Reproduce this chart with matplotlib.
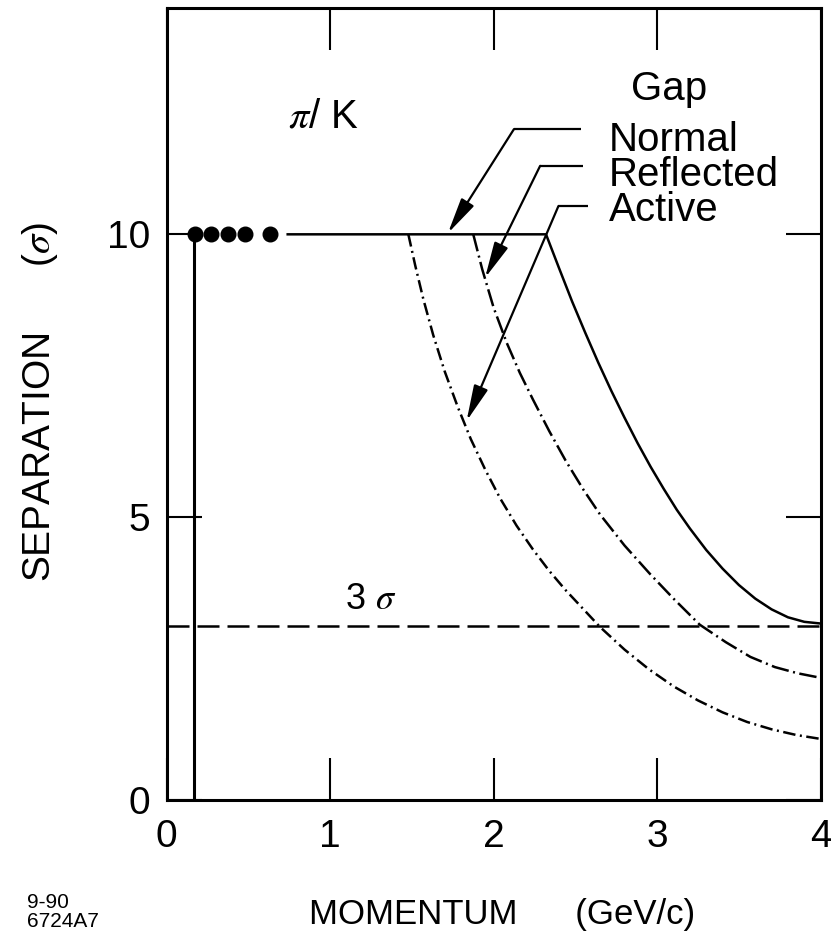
import matplotlib
matplotlib.use("Agg")
import matplotlib.pyplot as plt

plt.rcParams['font.family'] = ['Liberation Sans', 'DejaVu Sans']
plt.rcParams['mathtext.fontset'] = 'stix'

# ---- data ----
x_ticks = [0, 1, 2, 3, 4]
y_ticks = [0, 5, 10]

dots_x = [0.173, 0.271, 0.373, 0.48, 0.633]
dots_y = [10, 10, 10, 10, 10]

cut_x = [0.167, 0.167]
cut_y = [0, 10]

normal_x = [0.74, 2.32, 2.40, 2.48, 2.56, 2.64, 2.72, 2.80, 2.88, 2.96, 3.04,
            3.12, 3.20, 3.30, 3.40, 3.50, 3.60, 3.70, 3.80, 3.90, 4.0]
normal_y = [10.0, 10.0, 9.40, 8.81, 8.26, 7.73, 7.23, 6.76, 6.31, 5.89, 5.50,
            5.13, 4.80, 4.42, 4.09, 3.80, 3.56, 3.37, 3.23, 3.15, 3.12]

reflected_x = [1.875, 1.93, 2.00, 2.08, 2.16, 2.24, 2.34, 2.44, 2.55, 2.65,
               2.80, 2.955, 3.10, 3.26, 3.42, 3.57, 3.72, 3.86, 4.0]
reflected_y = [10.0, 9.38, 8.70, 8.08, 7.55, 7.08, 6.52, 6.00, 5.48, 5.05,
               4.50, 4.00, 3.56, 3.10, 2.79, 2.53, 2.35, 2.24, 2.16]

active_x = [1.478, 1.52, 1.57, 1.63, 1.70, 1.78, 1.86, 1.95, 2.04, 2.14, 2.24,
            2.34, 2.44, 2.55, 2.65, 2.80, 2.95, 3.10, 3.25, 3.40, 3.55, 3.70,
            3.85, 4.0]
active_y = [10.0, 9.45, 8.85, 8.22, 7.58, 6.95, 6.38, 5.83, 5.33, 4.85, 4.43,
            4.05, 3.71, 3.37, 3.06, 2.66, 2.31, 2.01, 1.76, 1.55, 1.38, 1.25,
            1.15, 1.08]

three_sigma = 3.07

gap_labels = ['Normal', 'Reflected', 'Active']

# leader lines: (label end, corner, arrow tip)
leader_normal = [(2.534, 11.86), (2.124, 11.86), (1.72, 10.02)]
leader_reflected = [(2.547, 11.21), (2.284, 11.21), (1.947, 9.23)]
leader_active = [(2.574, 10.5), (2.396, 10.5), (1.834, 6.70)]

# ---- figure ----
fig = plt.figure(figsize=(8.31, 9.46), dpi=100)
ax = fig.add_axes([0.2006, 0.1543, 0.787, 0.8372])
ax.set_xlim(0, 4)
ax.set_ylim(0, 14)

for s in ax.spines.values():
    s.set_linewidth(2.2)

ax.set_xticks(x_ticks)
ax.set_yticks(y_ticks)
ax.set_xticklabels([str(v) for v in x_ticks])
ax.set_yticklabels([str(v) for v in y_ticks])
ax.tick_params(axis='x', direction='in', length=30, width=1.5, top=True,
               labelsize=28, pad=14)
ax.tick_params(axis='y', direction='in', length=25, width=1.5, right=True,
               labelsize=28, pad=12)

lw = 1.8
ax.plot(cut_x, cut_y, color='black', lw=2.2)
ax.plot(dots_x, dots_y, 'o', color='black', ms=10.5)
ax.plot(normal_x, normal_y, color='black', lw=lw)
ax.plot(reflected_x, reflected_y, color='black', lw=lw,
        linestyle=(0, (7, 1.8, 0.8, 1.8)))
ax.plot(active_x, active_y, color='black', lw=lw,
        linestyle=(0, (5, 1.8, 0.8, 1.8)))
ax.plot([0, 4], [three_sigma, three_sigma], color='black', lw=lw,
        linestyle=(0, (8.8, 3.2)))

for pts in (leader_normal, leader_reflected, leader_active):
    (x0, y0), (x1, y1), (x2, y2) = pts
    ax.plot([x0, x1], [y0, y1], color='black', lw=1.6, solid_capstyle='butt')
    ax.annotate('', xy=(x2, y2), xytext=(x1, y1),
                arrowprops=dict(arrowstyle='-|>,head_length=2.2,head_width=0.45',
                                color='black', lw=1.6, shrinkA=0, shrinkB=0))

fs = 29
ax.text(2.84, 12.57, 'Gap', fontsize=fs, va='center', ha='left')
ax.text(2.705, 11.04, '\n'.join(gap_labels), fontsize=fs, va='center',
        ha='left', linespacing=0.9)
ax.text(0.74, 12.09, r'$\pi$/ K', fontsize=29, va='center', ha='left')
ax.text(1.09, 3.54, r'3 $\sigma$', fontsize=26, va='center', ha='left')

ax.set_xlabel(r'MOMENTUM      (GeV/c)', fontsize=25, va='center')
ax.xaxis.set_label_coords(0.513, -0.145)
ax.set_ylabel(r'SEPARATION      ($\sigma$)', fontsize=28, va='center')
ax.yaxis.set_label_coords(-0.194, 0.503)

fig.text(0.033, 0.036, '9-90\n6724A7', fontsize=15, ha='left', va='center',
         linespacing=1.0)

fig.savefig('out.png', dpi=100)
